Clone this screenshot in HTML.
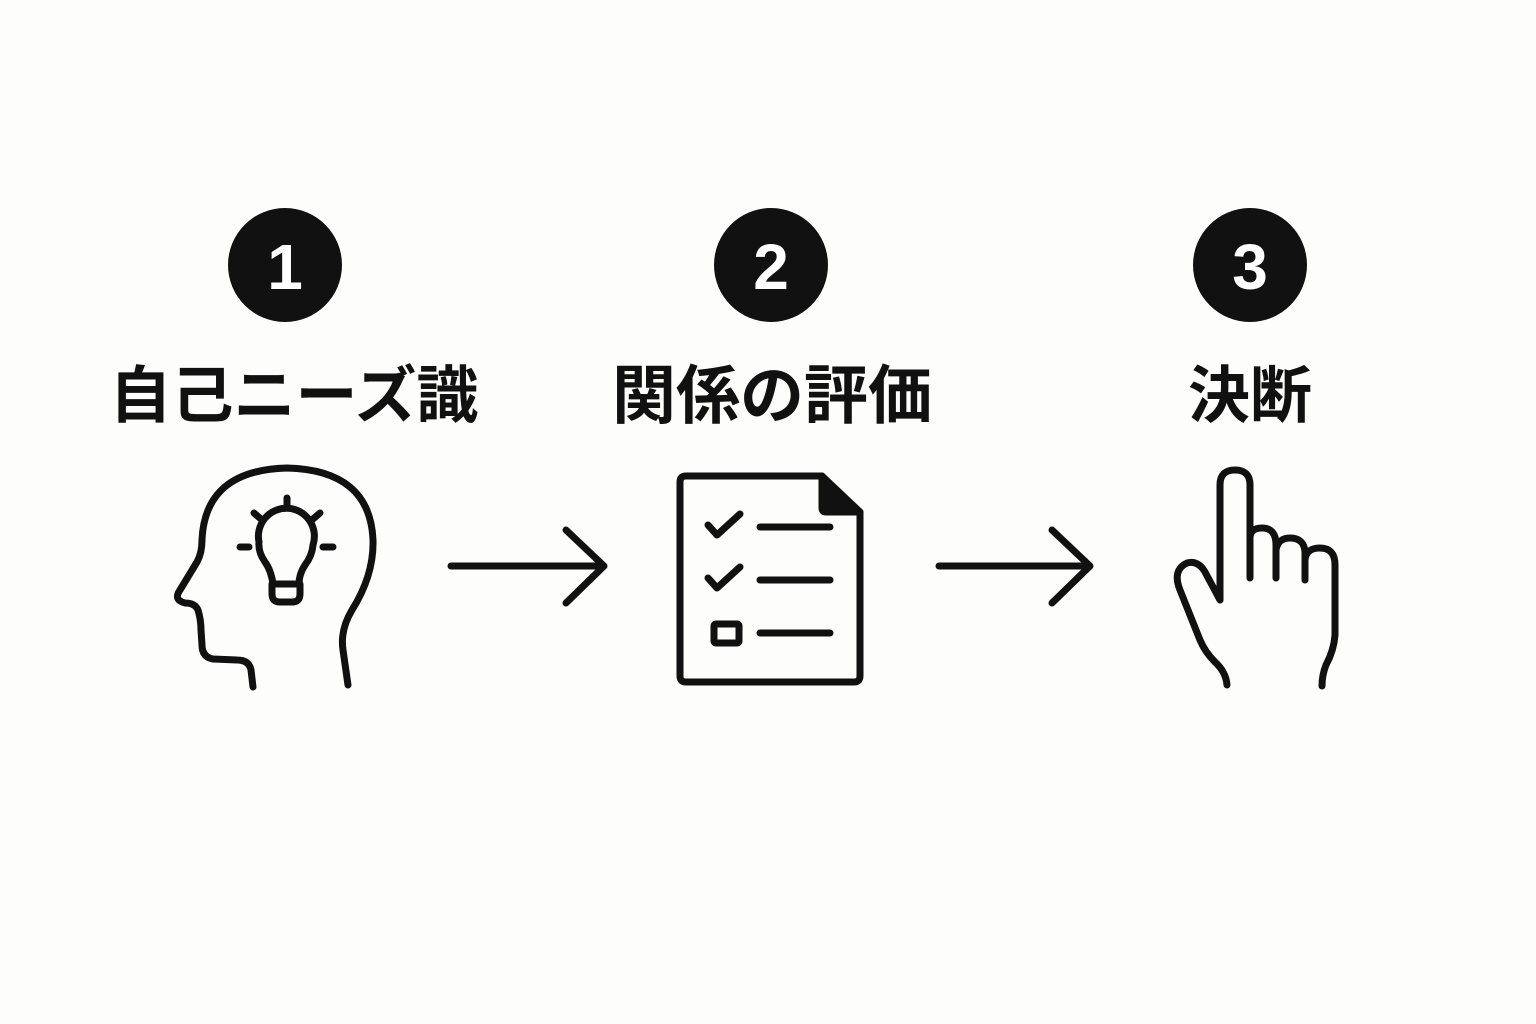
<!DOCTYPE html>
<html><head><meta charset="utf-8"><style>
html,body{margin:0;padding:0;background:#fdfdfb;}
svg{display:block}
</style></head><body>
<svg width="1536" height="1024" viewBox="0 0 1536 1024" xmlns="http://www.w3.org/2000/svg">
<rect width="1536" height="1024" fill="#fdfdfb"/>
<g fill="#111">
<circle cx="285" cy="265" r="57"/>
<circle cx="771" cy="265" r="57"/>
<circle cx="1250" cy="265" r="57"/>
</g>
<g fill="#fff" font-family="Liberation Sans, sans-serif" font-weight="bold" font-size="64" text-anchor="middle">
<text x="285" y="289">1</text>
<text x="771" y="289">2</text>
<text x="1250" y="289">3</text>
</g>
<g fill="#111" font-family="Liberation Sans, 'Noto Sans CJK JP', sans-serif" font-weight="bold" text-anchor="middle">
<text x="294" y="417" font-size="62">自己ニーズ識</text>
<text x="772" y="418" font-size="64">関係の評価</text>
<text x="1250" y="417" font-size="62">決断</text>
</g>
<g fill="none" stroke="#111" stroke-width="7" stroke-linecap="round" stroke-linejoin="round">
<path d="M253,687 L251,670 Q249,660 237,660 L213,659 Q202,657 202,645 L201,630 Q201,620 198,610 Q195,603 185,603 Q173,600 180,590 L197,562 Q202,553 202,540 Q205,470 287,468 Q370,470 373,540 Q374,575 352,610 Q340,630 343,650 L348,685"/>
<path d="M273,584 Q271,570 265,562 Q258,552 259,542 A28,28 0 1 1 313,545 Q312,556 305,565 Q299,574 299,584"/>
<path d="M272,584 L300,584 L300,594 Q300,602 292,602 L280,602 Q272,602 272,594 Z"/>
<path d="M287,498 L287,508 M254,513 L261,519 M320,513 L313,519 M240,547 L249,547 M323,547 L333,547"/>
<path d="M822,476 L686,476 Q680,476 680,482 L680,676 Q680,682 686,682 L854,682 Q860,682 860,676 L860,512"/>
<path d="M822,476 L860,512 L826,512 Q822,512 822,508 Z" fill="#111"/>
<path d="M708,525 L717,535 L740,514 M708,578 L717,588 L740,567"/>
<rect x="714" y="624" width="25" height="19" rx="2"/>
<path d="M760,527 L830,527 M760,580 L830,580 M760,633 L830,633"/>
<path d="M451,566 L604,566 M566,530 L604,566 L566,603"/>
<path d="M939,566 L1090,566 M1052,530 L1090,566 L1052,603"/>
<path d="M1227,685 Q1226,672 1215,662 Q1205,652 1200,640 L1180,590 Q1172,570 1187,563 Q1198,560 1205,572 L1220,600 L1220,485 Q1220,470 1235,470 Q1250,470 1250,485 L1250,578 M1250,538 Q1250,528 1262,528 Q1276,528 1276,545 L1276,578 M1276,550 Q1278,538 1290,538 Q1304,538 1305,552 L1305,580 M1305,560 Q1306,548 1320,548 Q1335,548 1335,565 L1335,635 Q1334,650 1326,665 Q1322,675 1322,686"/>
</g>
</svg>
</body></html>
